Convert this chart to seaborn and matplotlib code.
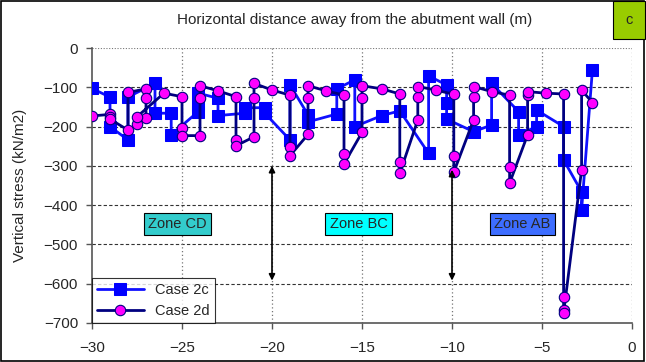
import matplotlib
matplotlib.use("Agg")
import matplotlib.pyplot as plt
from matplotlib.patches import Rectangle
import seaborn as sns
import pandas as pd

# Case 2c: vertical stress along the section (kN/m2)
case_2c_x = [-30, -29, -29, -28, -28, -26.5, -26.5, -25.6, -25.6, -24.1, -24.1, -24.1,
             -23, -23, -21.5, -21.5, -20.4, -20.4, -19, -19, -18, -18, -16.4, -16.4,
             -15.4, -15.4, -13.9, -12.9, -11.3, -11.3, -10.3, -10.3, -10.3, -8.8,
             -7.8, -7.8, -6.3, -6.3, -5.3, -5.3, -3.8, -3.8, -2.8, -2.8, -2.2]
case_2c_y = [-103, -125, -200, -234, -125, -90, -166, -166, -221, -162, -145, -115,
             -128, -172, -166, -152, -152, -166, -234, -94, -170, -188, -168, -104,
             -81, -200, -172, -160, -268, -71, -94, -139, -181, -213,
             -196, -90, -162, -221, -200, -158, -200, -285, -366, -412, -56]

# Case 2d
case_2d_x = [-30, -29, -29, -29, -28, -28, -27, -27, -27, -27.5, -27.5, -26, -25, -25,
             -25, -24, -24, -24, -23, -22, -22, -22, -21, -21, -21, -20, -19, -19, -19,
             -18, -18, -18, -17, -16, -16, -16, -15, -15, -15, -13.9, -12.9, -12.9,
             -12.9, -11.9, -11.9, -11.9, -10.9, -9.9, -9.9, -9.9, -8.8, -8.8, -8.8,
             -7.8, -6.8, -6.8, -6.8, -5.8, -5.8, -5.8, -4.8, -3.8, -3.8, -3.8, -3.8,
             -2.8, -2.8, -2.2]
case_2d_y = [-173, -169, -175, -181, -209, -113, -104, -126, -179, -194, -175, -115, -124,
             -204, -223, -223, -128, -96, -109, -124, -234, -249, -226, -128, -90, -107,
             -120, -251, -274, -220, -128, -96, -109, -120, -271, -295, -215, -128, -96,
             -104, -117, -289, -319, -183, -125, -98, -107, -118, -274, -316, -183, -125,
             -98, -111, -120, -302, -344, -221, -120, -111, -115, -117, -633, -667, -675,
             -310, -107, -139]

x_ticks = [-30, -25, -20, -15, -10, -5, 0]
y_ticks = [0, -100, -200, -300, -400, -500, -600, -700]

zones = ["Zone CD", "Zone BC", "Zone AB"]
zone_x = [-25.25, -15.2, -6.1]
zone_y = [-448, -448, -448]
zone_colors = ["#33CCCC", "#00FFFF", "#3D6DFF"]

arrow_x = [-20, -10]
arrow_top = [-300, -310]
arrow_bottom = [-592, -592]

sns.set_style("white")
plt.rcParams["font.family"] = ["Liberation Sans", "DejaVu Sans"]

fig = plt.figure(figsize=(6.46, 3.62), dpi=100)
ax = fig.add_axes([92 / 646, 1 - 323 / 362, 540 / 646, 275 / 362])

df_c = pd.DataFrame({"x": case_2c_x, "y": case_2c_y})
df_d = pd.DataFrame({"x": case_2d_x, "y": case_2d_y})

sns.lineplot(data=df_c, x="x", y="y", sort=False, estimator=None, ax=ax,
             color="#1010FF", lw=2.0, marker="s", markersize=8,
             markerfacecolor="#0000FF", markeredgecolor="#0000FF",
             label="Case 2c", zorder=3)
sns.lineplot(data=df_d, x="x", y="y", sort=False, estimator=None, ax=ax,
             color="#000080", lw=2.0, marker="o", markersize=7.5,
             markerfacecolor="#FF00FF", markeredgecolor="#000080", markeredgewidth=0.8,
             label="Case 2d", zorder=4)

ax.set_xlim(-30, 0)
ax.set_ylim(-700, 0)
ax.set_xticks(x_ticks)
ax.set_yticks(y_ticks)
ax.set_xlabel("")
ax.set_ylabel("Vertical stress (kN/m2)", fontsize=11, labelpad=12)
ax.tick_params(axis="both", labelsize=11, direction="out", length=4, width=1,
               color="#555555", left=True, bottom=True)
ax.tick_params(axis="x", pad=9)
ax.tick_params(axis="y", pad=6)

# grid: dashed horizontals, dotted verticals
for yv in y_ticks[:-1]:
    ax.axhline(yv, color="#333333" if yv != 0 else "#777777", lw=0.8,
               ls=(0, (3, 2)) if yv != 0 else (0, (1, 1.5)), zorder=0)
for xv in x_ticks[1:]:
    ax.axvline(xv, color="#777777", lw=0.9, ls=(0, (1, 2)), zorder=0)

for side in ["top", "right"]:
    ax.spines[side].set_visible(False)
for side in ["left", "bottom"]:
    ax.spines[side].set_color("#555555")
    ax.spines[side].set_linewidth(1.2)

# zone labels
for name, zx, zy, zc in zip(zones, zone_x, zone_y, zone_colors):
    ax.text(zx, zy, name, ha="center", va="center", fontsize=10.5, zorder=5,
            bbox=dict(boxstyle="square,pad=0.3", fc=zc, ec="black", lw=0.8))

# double-headed arrows
for ax_x, top, bot in zip(arrow_x, arrow_top, arrow_bottom):
    ax.annotate("", xy=(ax_x, top), xytext=(ax_x, bot),
                arrowprops=dict(arrowstyle="<|-|>", color="black", lw=1.2,
                                mutation_scale=9, shrinkA=0, shrinkB=0), zorder=6)

leg = ax.legend(loc="lower left", fontsize=10.5, frameon=True, fancybox=False,
                borderaxespad=0, handlelength=3.2, borderpad=0.35, labelspacing=0.5)
leg.get_frame().set_edgecolor("black")
leg.get_frame().set_linewidth(0.8)

fig.text(355 / 646, 1 - 20 / 362, "Horizontal distance away from the abutment wall (m)",
         ha="center", va="center", fontsize=11)
fig.text(629 / 646, 1 - 20 / 362, "c", ha="center", va="center", fontsize=10.5,
         bbox=dict(boxstyle="square,pad=0.85", fc="#99CC00", ec="black", lw=0.8))

fig.patches.append(Rectangle((0.002, 0.003), 0.995, 0.994, transform=fig.transFigure,
                             fill=False, ec="black", lw=1.2))

fig.savefig("out.png", dpi=100)
